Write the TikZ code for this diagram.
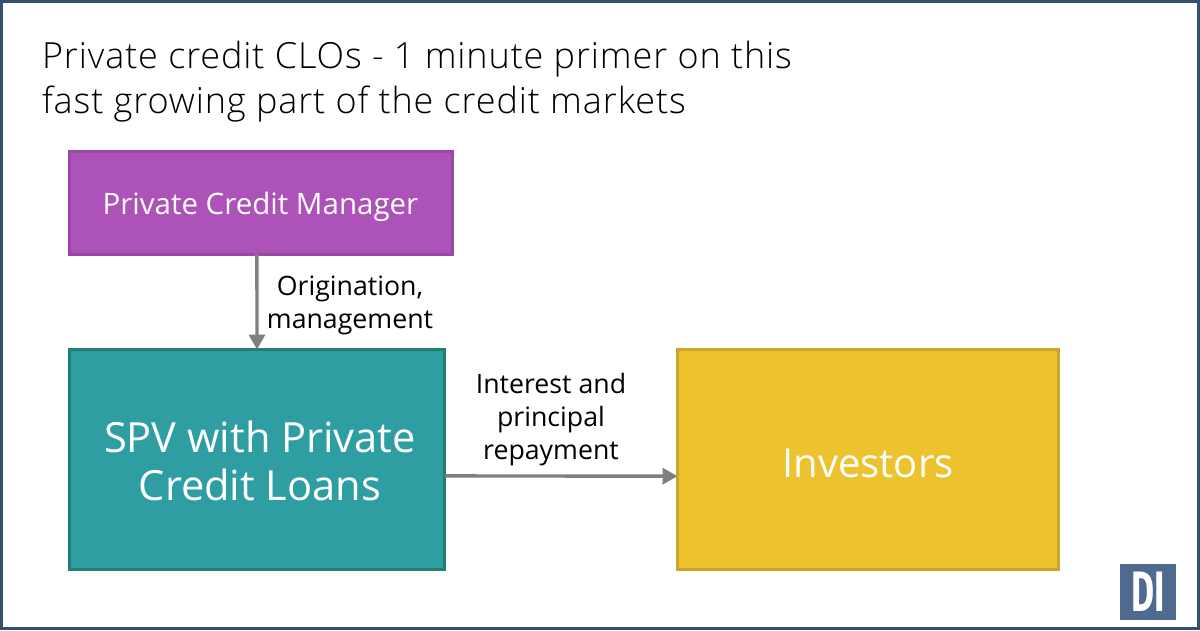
\documentclass[tikz,border=0pt]{standalone}
\usepackage{fontspec}
\setmainfont{Open Sans}
\newfontfamily\titlefont[LetterSpace=2.5]{Open Sans Light}
\newfontfamily\logofont{Fira Sans}
\definecolor{framecol}{HTML}{34526F}
\definecolor{mgrfill}{HTML}{AD52B8}
\definecolor{mgrline}{HTML}{9A47A5}
\definecolor{spvfill}{HTML}{2E9EA3}
\definecolor{spvline}{HTML}{227F72}
\definecolor{invfill}{HTML}{ECC32E}
\definecolor{invline}{HTML}{CDA42B}
\definecolor{flowcol}{HTML}{7F7F7F}
\definecolor{logocol}{HTML}{4F6A8F}
\usetikzlibrary{arrows.meta}

\begin{document}
\begin{tikzpicture}[x=1pt,y=-1pt]
\tikzstyle{every node}=[outer sep=0pt,inner sep=0pt];
\tikzstyle{party}=[draw,line width=3pt,text=white,align=center];
\tikzstyle{flow}=[draw=flowcol,line width=3.4pt,-{Triangle[length=15pt,width=16pt]}];
\tikzstyle{flowtext}=[align=center,font=\fontsize{26.7}{33}\selectfont];
\tikzstyle{headline}=[anchor=base west,font=\titlefont\fontsize{36}{45}\selectfont];
\useasboundingbox (0,0) rectangle (1200,630);
\draw[framecol,line width=3pt] (1.5,1.5) rectangle (1198.5,628.5);
\node[headline] (line1) at (42,68) {Private credit CLOs - 1 minute primer on this};
\node[headline] (line2) at (42,113) {fast growing part of the credit markets};
\node[party,fill=mgrfill,draw=mgrline,minimum width=383pt,minimum height=102.5pt,
	font=\fontsize{29.5}{36}\selectfont] (mgr) at (260.5,202.75) {\rule{0pt}{30pt}Private Credit Manager};
\node[party,fill=spvfill,draw=spvline,minimum width=375pt,minimum height=220pt,
	font=\fontsize{41.6}{48}\selectfont] (spv) at (257,459.5) {\rule{0pt}{33.6pt}\hspace*{6pt}SPV with Private\\\hspace*{6pt}Credit Loans};
\node[party,fill=invfill,draw=invline,minimum width=381pt,minimum height=220pt,
	font=\fontsize{40}{48}\selectfont] (inv) at (868,459.5) {\rule{0pt}{37pt}Investors};
\node[flowtext] (origin) at (350,305) {Origination,\\management};
\node[flowtext] (repay) at (551,420) {Interest and\\principal\\repayment};
\draw[flow] (mgr.266) -- (spv.north);
\draw[flow] (spv.-5.3) -- (inv.185.8);
\node[fill=logocol,minimum size=56pt] (logo) at (1148,592) {};
\node[text=white,xscale=0.62,font=\logofont\bfseries\fontsize{57}{57}\selectfont] (logotext) at (logo) {DI};
\end{tikzpicture}
\end{document}
